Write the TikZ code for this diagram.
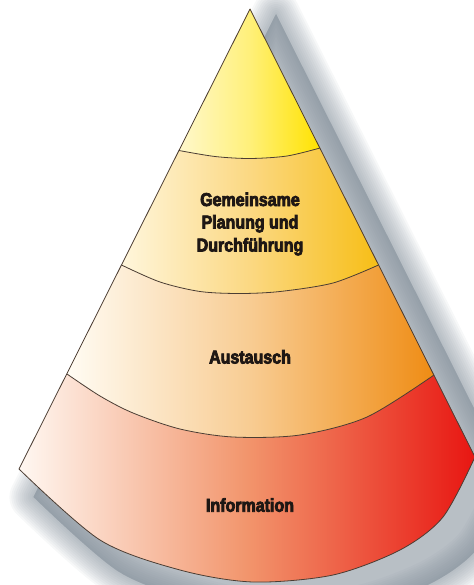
\documentclass[tikz,border=0pt]{standalone}
\usepackage{fontspec}
\newfontfamily\conefont[FakeStretch=0.86, BoldFeatures={FakeBold=4}]{Liberation Sans}
\definecolor{redL}{HTML}{FFF8F2}
\definecolor{redM}{HTML}{F2956C}
\definecolor{redR}{HTML}{E81612}
\definecolor{orgL}{HTML}{FFFCF4}
\definecolor{orgM}{HTML}{F8CC92}
\definecolor{orgR}{HTML}{EF8C14}
\definecolor{gldL}{HTML}{FFF6DC}
\definecolor{gldM}{HTML}{FBD882}
\definecolor{gldR}{HTML}{F7BE16}
\definecolor{ylwL}{HTML}{FFF8CC}
\definecolor{ylwM}{HTML}{FFF07A}
\definecolor{ylwR}{HTML}{FFE200}
\definecolor{outlinecol}{HTML}{4B3D33}
\definecolor{inkcol}{HTML}{1E1714}
\definecolor{shadowcol}{HTML}{76838F}
% outer outline of the cone (apex, left side, base curve)
\def\conepath{(250,9) -- plot[smooth] coordinates {(19,469) (100,540) (180,570) (253,582) (333,575) (400,550) (443,517) (475,457)} -- cycle}
\begin{document}
\begin{tikzpicture}[x=1pt,y=-1pt,
  conestroke/.style={draw=outlinecol, line width=0.8pt, line join=round},
  bandtext/.style={font=\conefont\bfseries\fontsize{18.6pt}{22pt}\selectfont,
    text=inkcol, inner sep=0pt, anchor=base},
]
\useasboundingbox (0,0) rectangle (473,585);

% soft drop shadow: stacked, ever narrower outlines of a shifted copy
\begin{scope}[shift={(26,5)}, scale around={1.05:(250,9)}]
  \foreach \w in {48,44,...,4}
    \filldraw[shadowcol, line width=\w pt, opacity=0.06, line join=round] \conepath;
\end{scope}

% bands, painted from the base upwards
\shade[left color=redL, right color=redR, middle color=redM] \conepath;
\shade[left color=orgL, right color=orgR, middle color=orgM] (250,9) -- plot[smooth] coordinates {(67,374) (100,396) (133,413) (180,429) (233,437) (300,435) (367,417) (434,375)} -- cycle;
\shade[left color=gldL, right color=gldR, middle color=gldM] (250,9) -- plot[smooth] coordinates {(121.5,265) (160,282) (200,291.5) (240,293.5) (280,291.5) (333,283) (378.5,265)} -- cycle;
\shade[left color=ylwL, right color=ylwR, middle color=ylwM] (250,9) -- plot[smooth] coordinates {(179,150.5) (215,156.5) (250,158.5) (287,156) (320,148)} -- cycle;

% band boundaries
\draw[conestroke] plot[smooth] coordinates {(179,150.5) (215,156.5) (250,158.5) (287,156) (320,148)};
\draw[conestroke] plot[smooth] coordinates {(121.5,265) (160,282) (200,291.5) (240,293.5) (280,291.5) (333,283) (378.5,265)};
\draw[conestroke] plot[smooth] coordinates {(67,374) (100,396) (133,413) (180,429) (233,437) (300,435) (367,417) (434,375)};
\draw[conestroke] \conepath;

% band labels
\node[bandtext] (plan1) at (250,206) {Gemeinsame};
\node[bandtext] (plan2) at (250,228.5) {Planung und};
\node[bandtext] (plan3) at (250,251.5) {Durchführung};
\node[bandtext] (austausch) at (250,363.5) {Austausch};
\node[bandtext] (information) at (250,511.7) {Information};
\end{tikzpicture}
\end{document}
